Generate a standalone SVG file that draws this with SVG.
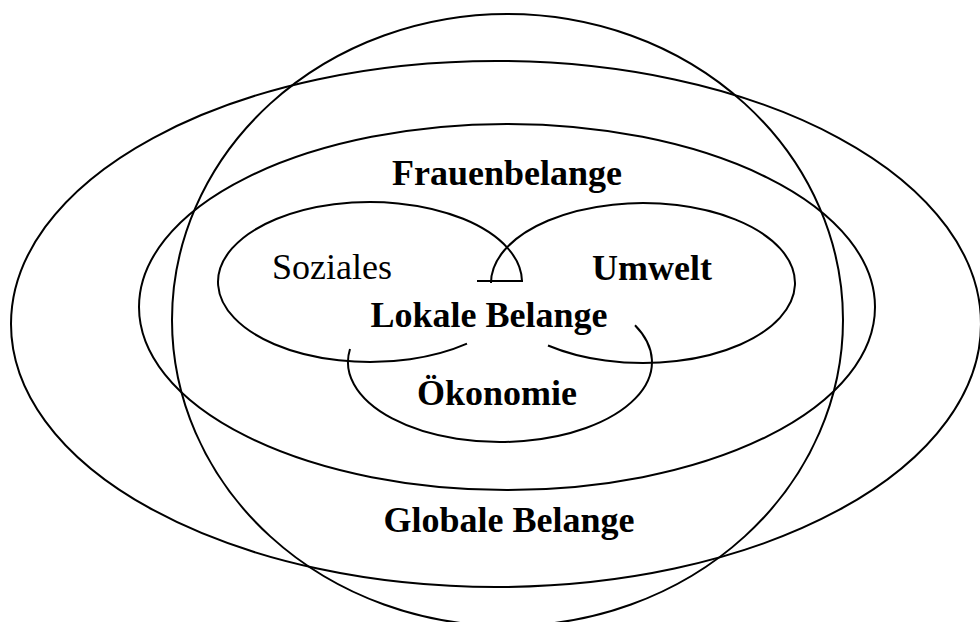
<svg xmlns="http://www.w3.org/2000/svg" width="980" height="622" viewBox="0 0 980 622">
<style>
.shape{fill:none;stroke:#000;stroke-width:2}
.t{font-family:"Liberation Serif","Times New Roman",serif;font-size:36px;fill:#000;text-anchor:middle}
.b{font-weight:bold}
</style>
<rect width="980" height="622" fill="#fff"/>
<g id="globale-belange">
<ellipse class="shape" cx="496" cy="324" rx="485" ry="263"/>
<text class="t b" x="509" y="532">Globale Belange</text>
</g>
<g id="kreis">
<ellipse class="shape" cx="507.5" cy="320" rx="335.5" ry="306"/>
</g>
<g id="frauenbelange">
<ellipse class="shape" cx="507" cy="307" rx="368" ry="183"/>
<text class="t b" x="507" y="185">Frauenbelange</text>
</g>
<g id="soziales">
<path class="shape" d="M522 281 A152 80 0 1 0 467 343.6"/>
<text class="t" x="332" y="279">Soziales</text>
</g>
<g id="umwelt">
<path class="shape" d="M491 283 A152 80 0 1 1 548 345.5"/>
<text class="t b" x="652" y="280">Umwelt</text>
</g>
<g id="oekonomie">
<path class="shape" d="M350 349 A152 80 0 1 0 635 325.3"/>
<text class="t b" x="497" y="405">Ökonomie</text>
</g>
<g id="lokale-belange">
<line class="shape" x1="477" y1="281" x2="523" y2="281"/>
<text class="t b" x="489" y="327">Lokale Belange</text>
</g>
<g id="connectors"/>
</svg>
